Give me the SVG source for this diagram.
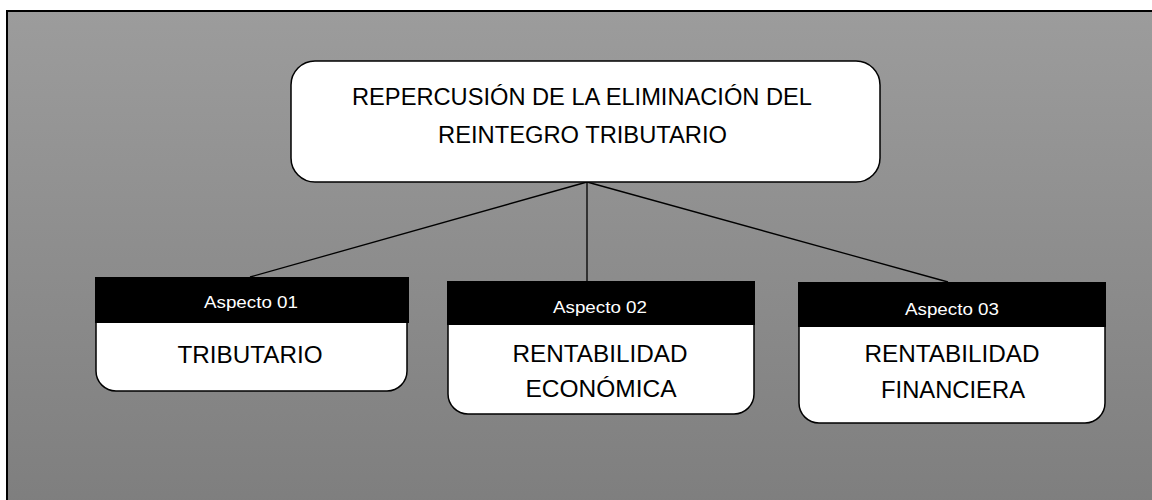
<svg xmlns="http://www.w3.org/2000/svg" width="1152" height="500" viewBox="0 0 1152 500">
<defs>
<linearGradient id="bg" x1="0" y1="0" x2="0" y2="1">
<stop offset="0" stop-color="#9c9c9c"/>
<stop offset="1" stop-color="#7e7e7e"/>
</linearGradient>
</defs>
<style>
.body{fill:#fff;stroke:#000;stroke-width:1.5}
.hdr{fill:#000}
.t{font-family:"Liberation Sans",Arial,sans-serif;text-anchor:middle;fill:#000}
.big{font-size:24px}
.title{font-size:23px}
.small{font-size:17px;fill:#fff}
.conn{stroke:#000;stroke-width:1.3;fill:none}
</style>
<rect x="0" y="0" width="1152" height="500" fill="#fff"/>
<rect x="7" y="11" width="1160" height="500" fill="url(#bg)" stroke="#000" stroke-width="2"/>
<g id="connectors">
<line class="conn" x1="587" y1="182" x2="250" y2="277"/>
<line class="conn" x1="587" y1="182" x2="587" y2="281"/>
<line class="conn" x1="587" y1="182" x2="948" y2="282"/>
</g>
<g id="root">
<rect class="body" x="291" y="61" width="589" height="121" rx="24" ry="24"/>
<text class="t title" x="582" y="105" textLength="460" lengthAdjust="spacingAndGlyphs">REPERCUSIÓN DE LA ELIMINACIÓN DEL</text>
<text class="t title" x="582.5" y="143" textLength="289" lengthAdjust="spacingAndGlyphs">REINTEGRO TRIBUTARIO</text>
</g>
<g id="aspecto1">
<rect class="body" x="96" y="278" width="311" height="113" rx="20" ry="20"/>
<rect class="hdr" x="95" y="277" width="314" height="46"/>
<text class="t small" x="251" y="308" textLength="94" lengthAdjust="spacingAndGlyphs">Aspecto 01</text>
<text class="t big" x="250" y="363" textLength="145" lengthAdjust="spacingAndGlyphs">TRIBUTARIO</text>
</g>
<g id="aspecto2">
<rect class="body" x="448" y="282" width="306" height="132" rx="20" ry="20"/>
<rect class="hdr" x="447" y="281" width="308" height="44"/>
<text class="t small" x="600" y="313" textLength="94" lengthAdjust="spacingAndGlyphs">Aspecto 02</text>
<text class="t big" x="600" y="362" textLength="175" lengthAdjust="spacingAndGlyphs">RENTABILIDAD</text>
<text class="t big" x="601" y="397" textLength="151" lengthAdjust="spacingAndGlyphs">ECONÓMICA</text>
</g>
<g id="aspecto3">
<rect class="body" x="799" y="283" width="306" height="140" rx="20" ry="20"/>
<rect class="hdr" x="798" y="282" width="308" height="45"/>
<text class="t small" x="952" y="315" textLength="94" lengthAdjust="spacingAndGlyphs">Aspecto 03</text>
<text class="t big" x="952" y="362" textLength="175" lengthAdjust="spacingAndGlyphs">RENTABILIDAD</text>
<text class="t big" x="953" y="398" textLength="144" lengthAdjust="spacingAndGlyphs">FINANCIERA</text>
</g>
</svg>
